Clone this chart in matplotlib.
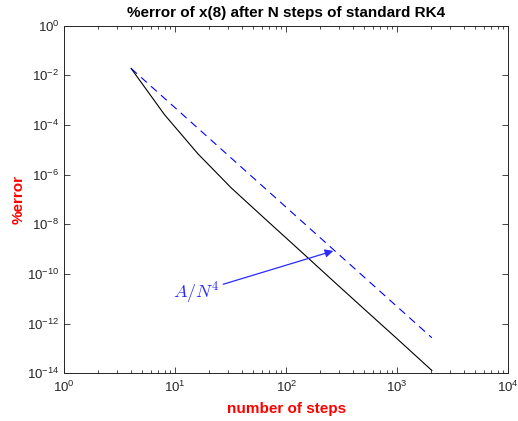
import matplotlib
matplotlib.use("Agg")
import matplotlib.pyplot as plt
from matplotlib.ticker import LogLocator, NullFormatter, NullLocator

plt.rcParams["font.family"] = ["Liberation Sans", "DejaVu Sans"]
plt.rcParams["mathtext.default"] = "regular"

# number of RK4 steps and the measured percent error of x(8)
steps = [4, 8, 16, 32, 64, 128, 256, 512, 1024, 2048]
pct_error = [1.9e-2, 2.6e-4, 6.9e-6, 2.9e-7, 1.7e-8, 1.02e-9, 6.0e-11, 3.6e-12, 2.2e-13, 1.3e-14]

# A/N^4 guide line (straight on log-log, so two end points)
ref_steps = [4, 2048]
ref_error = [1.9e-2, 2.7e-13]

# arrow from the label to the guide line
label_xy = (24.8, 1.8e-11)
arrow_xy = (265, 8.5e-10)

xticks = [1, 10, 100, 1000, 10000]
xtick_labels = ["$10^{%d}$" % i for i in range(0, 5)]
yticks = [1e-14, 1e-12, 1e-10, 1e-8, 1e-6, 1e-4, 1e-2, 1]
ytick_labels = ["$10^{%d}$" % i for i in range(-14, 1, 2)]

fig = plt.figure(figsize=(5.18, 4.21), dpi=100)
ax = fig.add_axes([64.3 / 518, 1 - 373.3 / 421, (508.3 - 64.3) / 518, (373.3 - 25.7) / 421])

ax.loglog(steps, pct_error, color="black", lw=0.8)
ax.loglog(ref_steps, ref_error, color="#0000ff", lw=0.8, ls=(0, (7, 5)))

ax.set_xlim(1, 1e4)
ax.set_ylim(1e-14, 1)
ax.set_xticks(xticks)
ax.set_xticklabels(xtick_labels)
ax.xaxis.set_minor_locator(LogLocator(base=10, subs=range(2, 10), numticks=20))
ax.xaxis.set_minor_formatter(NullFormatter())
ax.set_yticks(yticks)
ax.set_yticklabels(ytick_labels)
ax.yaxis.set_minor_locator(NullLocator())

ax.tick_params(which="both", direction="in", top=True, right=True,
               labelsize=9.5, labelcolor="#262626", color="#262626")
ax.tick_params(which="major", length=4, width=0.6)
ax.tick_params(which="minor", length=2, width=0.6)
ax.tick_params(axis="x", pad=5)
for s in ax.spines.values():
    s.set_linewidth(0.7)
    s.set_color("#262626")

ax.set_title("%error of x(8) after N steps of standard RK4", fontsize=11, fontweight="bold", pad=6)
ax.set_xlabel("number of steps", color="red", fontsize=11, fontweight="bold", labelpad=5)
ax.set_ylabel("%error", color="red", fontsize=11, fontweight="bold", labelpad=1)

ax.annotate(r"$\mathit{A}\mathrm{/}\mathit{N}^{\mathrm{4}}$", xy=arrow_xy, xytext=label_xy,
            ha="right", va="center", fontsize=13, color="#2a2aff", math_fontfamily="cm",
            arrowprops=dict(arrowstyle="-|>", color="#2a2aff", lw=0.9,
                            mutation_scale=12, shrinkA=1, shrinkB=0))

fig.savefig("out.png", dpi=100)
